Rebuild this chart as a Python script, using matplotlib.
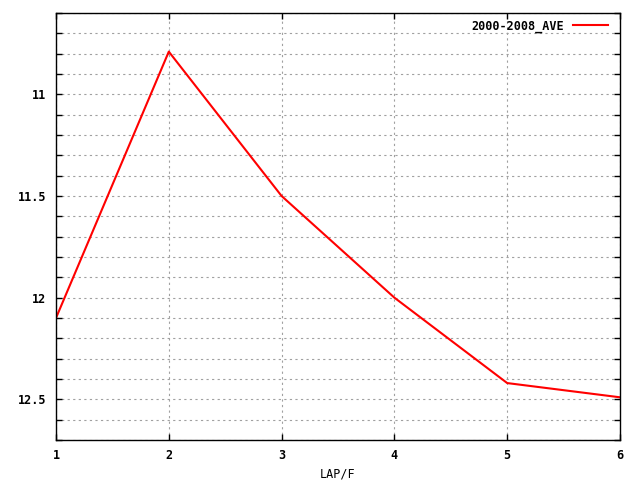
import matplotlib
matplotlib.use("Agg")
import matplotlib.pyplot as plt
from matplotlib.ticker import MultipleLocator, FixedLocator

laps = [1, 2, 3, 4, 5, 6]
ave = [12.1, 10.79, 11.5, 12.0, 12.42, 12.49]
series_label = "2000-2008_AVE"
xlabel = "LAP/F"

plt.rcParams['font.family'] = ['DejaVu Sans Mono']
plt.rcParams['font.weight'] = 'bold'
plt.rcParams['font.size'] = 8.5

fig = plt.figure(figsize=(6.4, 4.8), dpi=100)
ax = fig.add_axes([56/640, 1-440/480, (620-56)/640, (440-13)/480])
ax.plot(laps, ave, color='red', lw=1.5, label=series_label)
ax.set_xlim(1, 6)
ax.set_ylim(12.7, 10.6)
ax.xaxis.set_major_locator(FixedLocator(laps))
ax.yaxis.set_major_locator(FixedLocator([11, 11.5, 12, 12.5]))
ax.yaxis.set_minor_locator(MultipleLocator(0.1))
ax.set_yticklabels(['11', '11.5', '12', '12.5'])
ax.grid(True, which='both', color='#a0a0a0', linestyle=(0, (2, 3)), lw=0.8)
ax.tick_params(which='both', direction='in', top=True, right=True, length=4, width=1)
ax.tick_params(axis='y', pad=7)
ax.tick_params(axis='x', pad=6.5)
for s in ax.spines.values():
    s.set_linewidth(1)
ax.set_xlabel(xlabel, labelpad=4)
leg = ax.legend(loc='upper right', bbox_to_anchor=(0.986, 0.995), frameon=False,
                markerfirst=False, handlelength=3.0, borderaxespad=0.0,
                borderpad=0.35, handletextpad=0.7)
fig.savefig("out.png", dpi=100)
